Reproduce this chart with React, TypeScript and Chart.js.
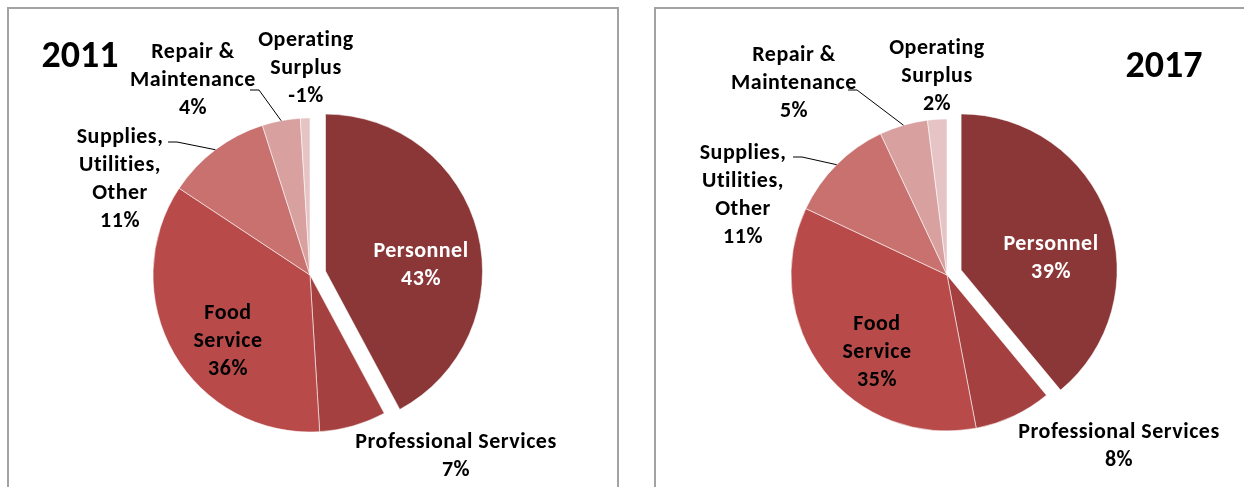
import React, { useEffect, useRef } from 'react';
import { Chart, registerables } from 'chart.js';

Chart.register(...registerables);

// ---------- data ----------
const categories = [
  'Personnel',
  'Professional Services',
  'Food Service',
  'Supplies, Utilities, Other',
  'Repair & Maintenance',
  'Operating Surplus',
];
const labelLines = [
  ['Personnel'],
  ['Professional Services'],
  ['Food', 'Service'],
  ['Supplies,', 'Utilities,', 'Other'],
  ['Repair &', 'Maintenance'],
  ['Operating', 'Surplus'],
];
const values2011 = [43, 7, 36, 11, 4, -1];
const values2017 = [39, 8, 35, 11, 5, 2];

// ---------- styles / layout ----------
const sliceColors = ['#8C3737', '#A44140', '#B84B4A', '#C8716F', '#D9A0A0', '#E6C3C4'];
const labelColors = ['#FFFFFF', '#000000', '#000000', '#000000', '#000000', '#000000'];
const FONT = '"Carlito", "Lato", "DejaVu Sans Condensed", sans-serif';
const LABEL_SIZE = 22;
const LINE_H = 28;

type Layout = {
  year: string;
  values: number[];
  canvasLeft: number;
  canvasWidth: number;
  center: [number, number];
  radius: number;
  explode: number[];
  title: [number, number];
  labelPos: [number, number][];
  leaders: ([number, number] | null)[];
};

const layout2011: Layout = {
  year: '2011',
  values: values2011,
  canvasLeft: 0,
  canvasWidth: 636,
  center: [310, 275],
  radius: 157,
  explode: [16, 0, 0, 0, 0, 0],
  title: [80, 57],
  labelPos: [
    [111, -10],
    [146, 181],
    [-82, 66],
    [-190, -96],
    [-117, -195],
    [-4, -207],
  ],
  leaders: [null, null, null, [-142, -133], [-60, -185], null],
};

const layout2017: Layout = {
  year: '2017',
  values: values2017,
  canvasLeft: 636,
  canvasWidth: 608,
  center: [311, 275],
  radius: 156,
  explode: [15, 0, 0, 0, 0, 0],
  title: [528, 67],
  labelPos: [
    [104, -17],
    [172, 171],
    [-70, 77],
    [-204, -80],
    [-153, -192],
    [-10, -199],
  ],
  leaders: [null, null, null, [-154, -118], [-99, -185], null],
};

const H = 487;

function makePlugin(L: Layout) {
  return {
    id: 'pieDecor' + L.year,
    afterDatasetUpdate(chart: any, args: any) {
      const arcs = args.meta.data;
      arcs.forEach((arc: any, i: number) => {
        const e = L.explode[i] || 0;
        if (!e) return;
        const mid = (arc.startAngle + arc.endAngle) / 2;
        arc.x += Math.cos(mid) * e;
        arc.y += Math.sin(mid) * e;
      });
    },
    afterDatasetsDraw(chart: any) {
      const ctx = chart.ctx as any;
      const area = chart.chartArea;
      const cx = (area.left + area.right) / 2;
      const cy = (area.top + area.bottom) / 2;
      const arcs = chart.getDatasetMeta(0).data;
      ctx.save();
      // title
      ctx.fillStyle = '#000';
      ctx.font = `bold 38px ${FONT}`;
      ctx.textAlign = 'center';
      ctx.textBaseline = 'middle';
      ctx.fillText(L.year, L.title[0], L.title[1]);

      // leader lines
      ctx.strokeStyle = '#000';
      ctx.lineWidth = 1;
      L.leaders.forEach((ld, i) => {
        if (!ld) return;
        const arc = arcs[i];
        const mid = (arc.startAngle + arc.endAngle) / 2;
        const ex = arc.x + Math.cos(mid) * arc.outerRadius;
        const ey = arc.y + Math.sin(mid) * arc.outerRadius;
        const sx = cx + ld[0];
        const sy = cy + ld[1];
        ctx.beginPath();
        ctx.moveTo(sx, sy);
        ctx.lineTo(sx + 9, sy);
        ctx.lineTo(ex, ey);
        ctx.stroke();
      });

      // labels
      ctx.font = `bold ${LABEL_SIZE}px ${FONT}`;
      if ('letterSpacing' in ctx) ctx.letterSpacing = '0.5px';
      L.values.forEach((v, i) => {
        const lines = [...labelLines[i], `${v}%`];
        const [dx, dy] = L.labelPos[i];
        const x = cx + dx;
        const y0 = cy + dy - ((lines.length - 1) * LINE_H) / 2;
        ctx.fillStyle = labelColors[i];
        lines.forEach((t, k) => ctx.fillText(t, x, y0 + k * LINE_H));
      });
      ctx.restore();
    },
  };
}

function PieChart({ L }: { L: Layout }) {
  const ref = useRef<HTMLCanvasElement | null>(null);
  useEffect(() => {
    if (!ref.current) return;
    const W = L.canvasWidth;
    const [cx, cy] = L.center;
    const padL = Math.max(0, 2 * cx - W);
    const padR = Math.max(0, W - 2 * cx);
    const padT = Math.max(0, 2 * cy - H);
    const padB = Math.max(0, H - 2 * cy);
    const chart = new Chart(ref.current, {
      type: 'pie',
      data: {
        labels: categories,
        datasets: [
          {
            data: L.values.map((v) => Math.abs(v)),
            backgroundColor: sliceColors,
            borderColor: 'rgba(255,255,255,0.55)',
            borderWidth: 1,
          },
        ],
      },
      options: {
        responsive: false,
        animation: false,
        radius: L.radius,
        layout: { padding: { left: padL, right: padR, top: padT, bottom: padB } },
        plugins: {
          legend: { display: false },
          title: { display: false },
          tooltip: { enabled: false },
        },
        events: [],
      } as any,
      plugins: [makePlugin(L)],
    });
    return () => chart.destroy();
  }, [L]);
  return (
    <canvas
      ref={ref}
      width={L.canvasWidth}
      height={H}
      style={{ position: 'absolute', left: L.canvasLeft, top: 0, width: L.canvasWidth, height: H }}
    />
  );
}

export default function App() {
  return (
    <div
      style={{
        position: 'fixed',
        left: 0,
        top: 0,
        width: 1244,
        height: H,
        overflow: 'hidden',
        background: '#fff',
      }}
    >
      <div
        style={{
          position: 'absolute',
          left: 7,
          top: 7,
          width: 612,
          height: 520,
          border: '2px solid #a3a3a3',
          boxSizing: 'border-box',
        }}
      />
      <div
        style={{
          position: 'absolute',
          left: 654,
          top: 7,
          width: 640,
          height: 520,
          border: '2px solid #a3a3a3',
          boxSizing: 'border-box',
        }}
      />
      <PieChart L={layout2011} />
      <PieChart L={layout2017} />
    </div>
  );
}
